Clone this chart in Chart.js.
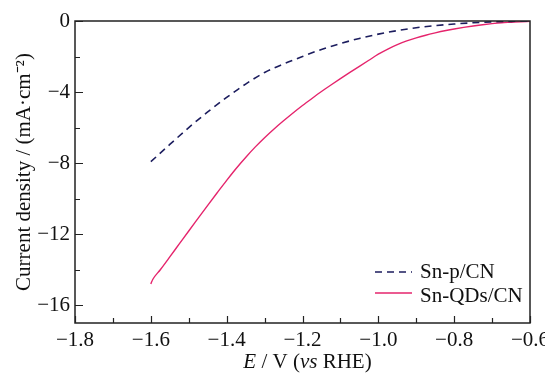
<!DOCTYPE html>
<html>
<head>
<meta charset="utf-8">
<script src="https://cdn.jsdelivr.net/npm/chart.js@4.4.1/dist/chart.umd.min.js"></script>
<style>
  html, body { margin: 0; padding: 0; background: #fff; }
  #wrap { width: 545px; height: 374px; }
</style>
</head>
<body>
<div id="wrap"><canvas id="myChart" width="545" height="374"></canvas></div>
<script>
// data
const pX = [-1.6, -1.55, -1.5, -1.45, -1.4, -1.35, -1.3, -1.25, -1.2, -1.15, -1.1,
  -1.05, -1.0, -0.95, -0.9, -0.85, -0.8, -0.75, -0.7, -0.65, -0.6];
const pY = [-7.92, -6.95, -6.0, -5.12, -4.3, -3.55, -2.9, -2.42, -2.0, -1.6, -1.27,
  -0.98, -0.74, -0.54, -0.38, -0.26, -0.17, -0.1, -0.05, -0.02, 0];

const qdX = [-1.6, -1.595, -1.575, -1.55, -1.525, -1.5, -1.475, -1.45, -1.425, -1.4,
  -1.375, -1.35, -1.325, -1.3, -1.275, -1.25, -1.225, -1.2, -1.175, -1.15, -1.125,
  -1.1, -1.075, -1.05, -1.025, -1.0, -0.975, -0.95, -0.925, -0.9, -0.875, -0.85,
  -0.825, -0.8, -0.775, -0.75, -0.725, -0.7, -0.675, -0.65, -0.625, -0.6];
const qdY = [-14.8, -14.55, -14.0, -13.28, -12.55, -11.82, -11.1, -10.38, -9.67, -8.97,
  -8.3, -7.68, -7.1, -6.57, -6.08, -5.62, -5.18, -4.76, -4.36, -3.97, -3.6,
  -3.24, -2.89, -2.55, -2.21, -1.87, -1.58, -1.33, -1.12, -0.95, -0.8, -0.67,
  -0.55, -0.45, -0.36, -0.28, -0.21, -0.15, -0.1, -0.07, -0.04, -0.02];

const xTicks = [-1.8, -1.7, -1.6, -1.5, -1.4, -1.3, -1.2, -1.1, -1.0, -0.9, -0.8, -0.7, -0.6];
const xLabels = [-1.8, -1.6, -1.4, -1.2, -1.0, -0.8, -0.6];
const yTicks = [0, -2, -4, -6, -8, -10, -12, -14, -16];
const yLabels = [0, -4, -8, -12, -16];
const seriesNames = ['Sn-p/CN', 'Sn-QDs/CN'];

const SERIF = '"Liberation Serif", "Times New Roman", serif';
const FS = 21;
const navy = '#1c1d5e';
const pink = '#e5246c';

const toPts = (xs, ys) => xs.map((x, i) => ({ x: x, y: ys[i] }));
const isIn = (arr, v) => arr.some(a => Math.abs(a - v) < 1e-6);
const minus = v => String(v).replace('-', '\u2212');

// frame, inward ticks, x title, legend
const decor = {
  id: 'decor',
  afterDraw(chart) {
    const ctx = chart.ctx;
    const a = chart.chartArea;
    const xs = chart.scales.x, ys = chart.scales.y;
    ctx.save();
    ctx.strokeStyle = '#222';
    ctx.lineWidth = 1.5;
    ctx.strokeRect(a.left, a.top, a.right - a.left, a.bottom - a.top);

    ctx.lineWidth = 1.2;
    ctx.beginPath();
    xTicks.forEach(v => {
      const px = Math.round(xs.getPixelForValue(v)) + 0.5;
      const len = isIn(xLabels, v) ? 7 : 5;
      ctx.moveTo(px, a.bottom);
      ctx.lineTo(px, a.bottom - len);
    });
    yTicks.forEach(v => {
      const py = Math.round(ys.getPixelForValue(v)) + 0.5;
      const len = isIn(yLabels, v) ? 8 : 5;
      ctx.moveTo(a.left, py);
      ctx.lineTo(a.left + len, py);
    });
    ctx.stroke();

    // x axis title: E / V (vs RHE)
    const parts = [
      ['E', 'italic'], [' / V (', 'normal'], ['vs', 'italic'], [' RHE)', 'normal']
    ];
    ctx.fillStyle = '#111';
    ctx.textBaseline = 'alphabetic';
    let total = 0;
    parts.forEach(p => { ctx.font = p[1] + ' ' + FS + 'px ' + SERIF; total += ctx.measureText(p[0]).width; });
    let tx = (a.left + a.right) / 2 - total / 2 + 5;
    parts.forEach(p => {
      ctx.font = p[1] + ' ' + FS + 'px ' + SERIF;
      ctx.fillText(p[0], tx, 368);
      tx += ctx.measureText(p[0]).width;
    });

    // legend
    ctx.font = FS + 'px ' + SERIF;
    chart.data.datasets.forEach((ds, i) => {
      const ly = 272 + i * 21;
      ctx.strokeStyle = ds.borderColor;
      ctx.lineWidth = 1.5;
      ctx.setLineDash(ds.borderDash || []);
      ctx.beginPath();
      ctx.moveTo(375, ly);
      ctx.lineTo(412, ly);
      ctx.stroke();
      ctx.setLineDash([]);
      ctx.fillStyle = '#111';
      ctx.fillText(ds.label, 420, 278 + i * 24);
    });
    ctx.restore();
  }
};

const cht = document.getElementById('myChart').getContext('2d');

const data = {
  datasets: [
    {
      label: seriesNames[0],
      data: toPts(pX, pY),
      borderColor: navy,
      borderWidth: 1.6,
      borderDash: [7, 5],
      pointRadius: 0,
      fill: false,
      cubicInterpolationMode: 'monotone'
    },
    {
      label: seriesNames[1],
      data: toPts(qdX, qdY),
      borderColor: pink,
      borderWidth: 1.4,
      pointRadius: 0,
      fill: false,
      cubicInterpolationMode: 'monotone'
    }
  ]
};

const config = {
  type: 'line',
  data: data,
  options: {
    responsive: false,
    animation: false,
    events: [],
    layout: { padding: { left: 0, right: 15, top: 21, bottom: 0 } },
    plugins: { legend: { display: false }, tooltip: { enabled: false } },
    scales: {
      x: {
        type: 'linear',
        min: -1.8,
        max: -0.6,
        grid: { display: false, drawTicks: false },
        border: { display: false },
        afterBuildTicks: s => { s.ticks = xLabels.map(v => ({ value: v })); },
        afterFit: s => { s.height = 51; s.paddingLeft = 0; s.paddingRight = 0; },
        ticks: {
          autoSkip: false,
          maxRotation: 0,
          padding: 5,
          color: '#111',
          font: { family: SERIF, size: FS },
          callback: v => minus(v.toFixed(1))
        }
      },
      y: {
        type: 'linear',
        min: -17,
        max: 0,
        grid: { display: false, drawTicks: false },
        border: { display: false },
        afterBuildTicks: s => { s.ticks = yLabels.map(v => ({ value: v })); },
        afterFit: s => { s.width = 75; s.paddingTop = 0; s.paddingBottom = 0; },
        ticks: {
          autoSkip: false,
          padding: 5,
          color: '#111',
          font: { family: SERIF, size: FS },
          callback: v => minus(v)
        },
        title: {
          display: true,
          text: 'Current density / (mA\u00b7cm\u207b\u00b2)',
          color: '#111',
          font: { family: SERIF, size: FS },
          padding: { top: 12, bottom: 0 }
        }
      }
    }
  },
  plugins: [decor]
};

const myChart = new Chart(cht, config);
</script>
</body>
</html>
